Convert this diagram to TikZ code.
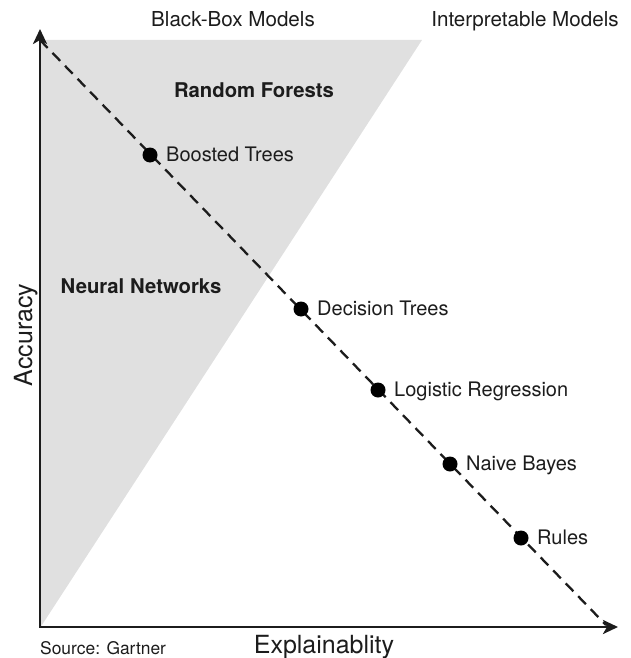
\documentclass[tikz,border=0pt]{standalone}
\usepackage{fontspec}
\setmainfont{TeX Gyre Heros}
\usetikzlibrary{arrows.meta}
\definecolor{regiongray}{HTML}{E0E0E0}
\definecolor{ink}{HTML}{1C1C1C}

\begin{document}
\begin{tikzpicture}[x=1pt,y=-1pt,
  axisline/.style={line width=2.8pt, draw=ink, line join=miter,
    {Stealth[length=15pt,width=14pt,inset=4pt]}-{Stealth[length=15pt,width=14pt,inset=4pt]}},
  trendline/.style={line width=2.3pt, draw=ink, dash pattern=on 11pt off 7pt},
  dot/.style={circle, fill=black, minimum size=15pt, inner sep=0pt},
  ptlabel/.style={font=\fontsize{20}{24}\selectfont, text=ink, inner sep=0pt, anchor=base west},
  group/.style={font=\fontsize{20.3}{24}\selectfont\bfseries, text=ink, inner sep=0pt},
  header/.style={font=\fontsize{20.6}{24}\selectfont, text=ink, inner sep=0pt, anchor=base},
  axistitle/.style={font=\fontsize{25}{30}\selectfont, text=ink, inner sep=0pt, anchor=base},
  source/.style={font=\fontsize{17.4}{20}\selectfont, text=ink, inner sep=0pt, anchor=base west},
]
\useasboundingbox (0,0) rectangle (630,658);

% black-box region
\fill[regiongray] (40,628) -- (40,40) -- (422,40) -- cycle;

% key points
\coordinate (origin) at (40,627);
\coordinate (ytip) at (40,29);
\coordinate (xtip) at (618,627);
\coordinate (tstart) at (40,40);
\coordinate (tend) at (606,625);

% trade-off line and axes
\draw[trendline] (tstart) -- (tend);
\draw[axisline] (ytip) -- (origin) -- (xtip);

% models along the trade-off line
\node[dot] (boosted)  at (150,155) {};
\node[dot] (decision) at (301,309) {};
\node[dot] (logistic) at (378,390) {};
\node[dot] (naive)    at (450,464) {};
\node[dot] (rules)    at (521,538) {};

\node[ptlabel] (lboosted)  at ([xshift=16pt,yshift=-6pt]boosted.center)  {Boosted Trees};
\node[ptlabel] (ldecision) at ([xshift=16pt,yshift=-6pt]decision.center) {Decision Trees};
\node[ptlabel] (llogistic) at ([xshift=16pt,yshift=-6pt]logistic.center) {Logistic Regression};
\node[ptlabel] (lnaive)    at ([xshift=16pt,yshift=-6pt]naive.center)    {Naive Bayes};
\node[ptlabel] (lrules)    at ([xshift=16pt,yshift=-6pt]rules.center)    {Rules};

% model families inside the region
\node[group] (forests) at (254,90)  {Random Forests};
\node[group] (neural)  at (141,286) {Neural Networks};

% headers
\node[header] (blackbox) at (233,27) {Black-Box Models};
\node[header] (interp)   at (525,27) {Interpretable Models};

% axis titles and source
\node[axistitle] (xtitle) at (324,653) {Explainablity};
\node[axistitle, rotate=90] (ytitle) at (32,335) {Accuracy};
\node[source] (src) at (40,654) {Source: Gartner};
\end{tikzpicture}
\end{document}
